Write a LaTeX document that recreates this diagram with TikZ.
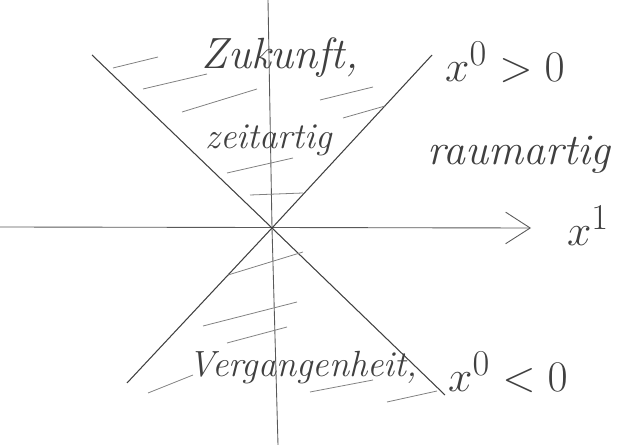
\documentclass[tikz,border=0pt]{standalone}
\usepackage{tikz}
\usetikzlibrary{arrows.meta}

\begin{document}
\begin{tikzpicture}[x=0.02cm, y=-0.02cm,
  axis/.style={draw=black!65, line width=0.5pt},
  cone/.style={draw=black!75, line width=0.6pt},
  hatch/.style={draw=black!50, line width=0.45pt},
  lbl/.style={text=black!75, inner sep=0pt}]
  \useasboundingbox (0,0) rectangle (625,445);
  % axes
  \coordinate (O) at (272,228);
  \coordinate (top) at (268,0);
  \coordinate (bot) at (278,445);
  \coordinate (west) at (0,227);
  \coordinate (east) at (531,228);
  \draw[axis] (top) -- (O) -- (bot);
  \draw[axis,-{Straight Barb[length=14pt,width=18pt,line width=0.5pt]}] (west) -- (east);
  % light cone
  \coordinate (nw) at (92,55);
  \coordinate (ne) at (432,55);
  \coordinate (sw) at (127,383);
  \coordinate (se) at (445,395);
  \draw[cone] (nw) -- (O) -- (se);
  \draw[cone] (ne) -- (O) -- (sw);
  % hatching
  \foreach \xa/\ya/\xb/\yb in {113/68/158/57, 143/89/207/74, 182/112/257/89,
      320/100/373/87, 343/118/385/106, 227/173/293/158,
      250/195/303/193, 228/275/303/252, 203/326/297/302,
      227/343/287/327, 148/393/193/375, 310/392/373/380,
      387/402/437/391}
    \draw[hatch] (\xa,\ya) -- (\xb,\yb);
  % labels
  \node[lbl,font=\Huge\itshape] (future) at (280,58) {Zukunft,};
  \node[lbl,font=\huge\itshape] (timelike) at (269,140) {zeitartig};
  \node[lbl,font=\Huge\itshape] (spacelike) at (519,155) {raumartig};
  \node[lbl,font=\huge\itshape] (past) at (303,368) {Vergangenheit,};
  \node[lbl,font=\Huge] (xpos) at (505,62) {$x^0>0$};
  \node[lbl,font=\Huge] (xneg) at (508,372) {$x^0<0$};
  \node[lbl,font=\Huge] (xone) at (588,226) {$x^1$};
\end{tikzpicture}
\end{document}
